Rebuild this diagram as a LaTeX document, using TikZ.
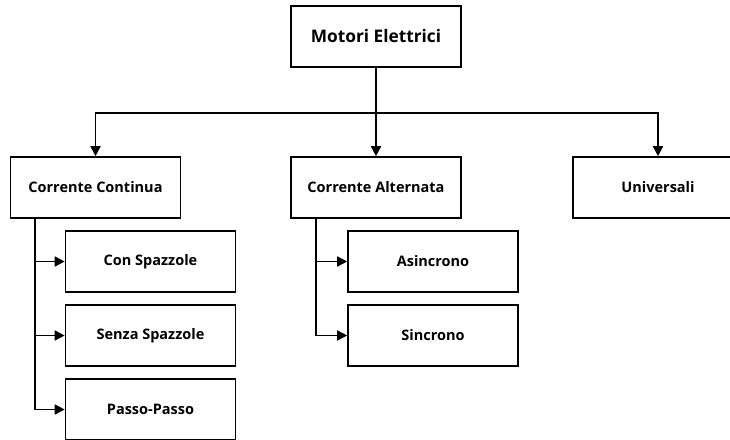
\documentclass[tikz,border=0pt]{standalone}
\usepackage{fontspec}
\setmainfont{Open Sans}
\usetikzlibrary{arrows.meta}
\tikzset{
  box/.style={draw=black, line width=1.6pt, fill=white, minimum width=170pt, minimum height=61pt, inner sep=0pt, font=\bfseries\fontsize{14.5}{16}\selectfont, text=black},
  title/.style={box, font=\bfseries\fontsize{17.3}{20}\selectfont},
  conn/.style={line width=1.6pt, draw=black},
  arr/.style={conn, -{Triangle[length=10pt,width=10pt]}}
}
\begin{document}
\begin{tikzpicture}[x=1pt,y=-1pt]
\useasboundingbox (0,0) rectangle (730,439);
\clip (0,0) rectangle (730,439);
\fill[white] (0,0) rectangle (730,439);
\node[title] (me) at (376,36.5) {Motori Elettrici};
\node[box] (cc) at (95.5,187.5) {Corrente Continua};
\node[box] (ca) at (376,187.5) {Corrente Alternata};
\node[box] (un) at (658,187.5) {Universali};
\node[box] (cs) at (150.5,261.5) {Con Spazzole};
\node[box] (ss) at (150.5,335.5) {Senza Spazzole};
\node[box] (pp) at (150.5,409.5) {Passo-Passo};
\node[box] (as) at (433,261.5) {Asincrono};
\node[box] (si) at (433,335.5) {Sincrono};
\coordinate (j) at (376,113);
\coordinate (ccb) at (35,218);
\coordinate (cab) at (316,218);
\draw[conn] (me.south) -- (j);
\draw[arr] (j) -| (cc.north);
\draw[arr] (j) -| (un.north);
\draw[arr] (j) -- (ca.north);
\draw[conn] (ccb) -- (ccb |- pp.west);
\draw[arr] (ccb |- cs.west) -- (cs.west);
\draw[arr] (ccb |- ss.west) -- (ss.west);
\draw[arr] (ccb |- pp.west) -- (pp.west);
\draw[conn] (cab) -- (cab |- si.west);
\draw[arr] (cab |- as.west) -- (as.west);
\draw[arr] (cab |- si.west) -- (si.west);
\end{tikzpicture}
\end{document}
